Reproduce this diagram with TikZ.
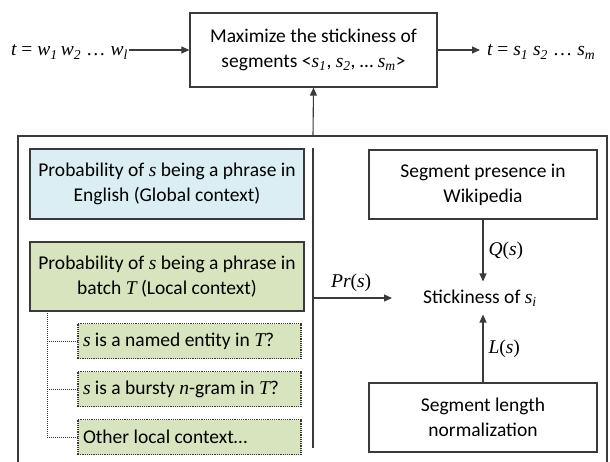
\documentclass[tikz,border=0pt]{standalone}
\usepackage{fontspec}
\setmainfont{Carlito}
\newfontfamily\tmsfont{Liberation Serif}
\usetikzlibrary{arrows.meta,calc}
\newcommand\iv[1]{{\tmsfont\itshape #1}}
\newcommand\isub[1]{\textsubscript{\tmsfont\itshape #1}}
\definecolor{globalblue}{HTML}{DBEEF4}
\definecolor{localgreen}{HTML}{D7E4BD}
\definecolor{edgegray}{HTML}{3A3A3A}
\tikzset{
  box/.style={draw=edgegray, line width=1.2pt, align=center, inner sep=2pt,
    font=\fontsize{19.5}{25}\selectfont},
  subbox/.style={draw=edgegray, densely dotted, line width=1.2pt, fill=localgreen,
    text width=213pt, align=flush left, minimum height=35pt, inner xsep=5pt, inner ysep=0pt,
    font=\fontsize{19.5}{25}\selectfont},
  flow/.style={draw=edgegray, line width=1.1pt, -{Triangle[length=8pt,width=7pt]}},
  branch/.style={draw=edgegray, densely dotted, line width=1pt},
  lbl/.style={font=\fontsize{19.5}{25}\selectfont, inner sep=1pt},
  seq/.style={font=\tmsfont\fontsize{19.5}{25}\selectfont, inner sep=1pt}
}
\begin{document}
\begin{tikzpicture}[x=1pt, y=-1pt]
  \useasboundingbox (0,0) rectangle (610,461);
  % top row
  \node[box, minimum width=247pt, minimum height=74pt] (maxbox) at (313.5,50)
    {Maximize the stickiness of\\segments <\iv{s}\isub{1}, \iv{s}\isub{2}, … \iv{s}\isub{m}>};
  \node[seq, anchor=east] (tin) at (129,52)
    {\iv{t} = \iv{w}\isub{1}\,\iv{w}\isub{2} … \iv{w}\isub{l}};
  \node[seq, anchor=west] (tout) at (486,52)
    {\iv{t} = \iv{s}\isub{1} \iv{s}\isub{2} … \iv{s}\isub{m}};
  \draw[flow] (tin.east |- maxbox.west) -- (maxbox.west);
  \draw[flow, shorten >=6pt] (maxbox.east) -- (maxbox.east -| tout.west);
  % outer frame, open at the bottom
  \draw[edgegray, line width=1.2pt] (18,462) -- (18,136) -- (607,136) -- (607,462);
  \coordinate (frametop) at (313,136);
  \draw[flow] (frametop) -- (maxbox.south);
  \draw[edgegray, line width=1.2pt] (313,148) -- (313,448);
  % left side
  \node[box, fill=globalblue, minimum width=274pt, minimum height=70pt] (global) at (167,184)
    {Probability of \iv{s} being a phrase in\\English (Global context)};
  \node[box, fill=localgreen, minimum width=274pt, minimum height=69pt] (local) at (167,276.5)
    {Probability of \iv{s} being a phrase in\\batch \iv{T} (Local context)};
  \node[subbox] (entity) at (189.5,341) {\iv{s} is a named entity in \iv{T}?};
  \node[subbox] (bursty) at (189.5,389) {\iv{s} is a bursty \iv{n}-gram in \iv{T}?};
  \node[subbox] (other) at (189.5,437) {Other local context…};
  \coordinate (trunk) at (47,311);
  \draw[branch] (trunk) |- (entity.west);
  \draw[branch] (trunk) |- (bursty.west);
  \draw[branch] (trunk) |- (other.west);
  % right side
  \node[box, minimum width=228pt, minimum height=69pt] (wiki) at (483,184.5)
    {Segment presence in\\Wikipedia};
  \node[box, minimum width=228pt, minimum height=69pt] (lenbox) at (483,417.5)
    {Segment length\\normalization};
  \node[lbl, inner ysep=8pt] (stick) at (480,298) {Stickiness of \iv{s}\isub{i}};
  \coordinate (prstart) at (313,298);
  \draw[flow, shorten >=30pt] (prstart) -- node[seq, pos=0.35, above=5pt] {\iv{Pr}(\iv{s})} (stick.west);
  \draw[flow] (wiki.south) -- node[seq, right=4pt] {\iv{Q}(\iv{s})} (wiki.south |- stick.north);
  \draw[flow] (lenbox.north) -- node[seq, right=4pt] {\iv{L}(\iv{s})} (lenbox.north |- stick.south);
\end{tikzpicture}
\end{document}
